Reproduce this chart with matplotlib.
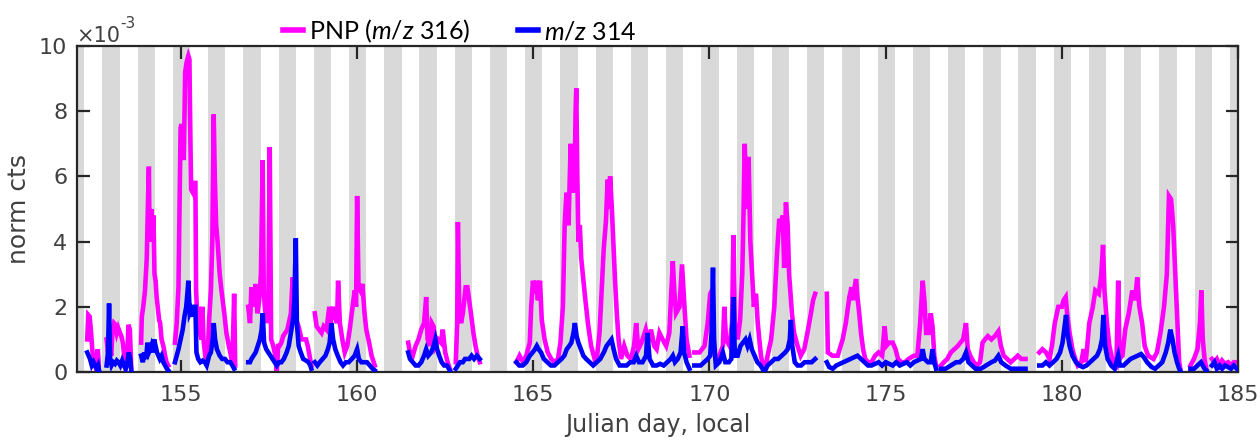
import numpy as np
import matplotlib
matplotlib.use("Agg")
import matplotlib.pyplot as plt
from matplotlib.lines import Line2D

plt.rcParams["font.family"] = ["DejaVu Sans"]
plt.rcParams["mathtext.fontset"] = "custom"
plt.rcParams["mathtext.rm"] = "Lato"
plt.rcParams["mathtext.it"] = "Lato:italic"

# Normalized counts (units of 1e-3) against local Julian day.
# None marks a break in the record.
pnp_316 = [
    (152.34, 1.0), (152.37, 1.75), (152.41, 1.7), (152.45, 1.2), (152.49, 0.6), (152.53, 0.4),
    (152.57, 0.2), (152.61, 0.3), (152.64, 0.7), (152.67, 0.2), None,
    (152.89, 1.0), (152.93, 0.6), (152.97, 0.9), (153.02, 0.5), (153.06, 1.3), (153.10, 1.5),
    (153.14, 1.45), (153.18, 1.2), (153.22, 1.35), (153.27, 1.2), (153.31, 1.1), (153.35, 0.9),
    (153.39, 0.5), (153.43, 0.1), (153.47, 0.2), (153.51, 1.45), (153.55, 1.3), (153.59, 0.1), None,
    (153.87, 0.9), (153.89, 1.7), (153.93, 2.0), (153.98, 2.5), (154.03, 3.5), (154.06, 5.0),
    (154.09, 6.3), (154.11, 4.0), (154.13, 4.5), (154.16, 5.0), (154.19, 4.2), (154.22, 4.8),
    (154.25, 3.0), (154.28, 2.8), (154.31, 2.3), (154.34, 2.0), (154.38, 1.6), (154.41, 1.5),
    (154.45, 1.0), (154.50, 0.8), (154.55, 0.5), (154.59, 0.3), (154.64, 0.2), None,
    (154.83, 0.9), (154.88, 1.5), (154.93, 2.6), (154.96, 5.0), (154.99, 7.5), (155.02, 7.6),
    (155.05, 7.2), (155.08, 6.5), (155.12, 9.2), (155.16, 9.5), (155.21, 9.7), (155.24, 9.6),
    (155.27, 7.0), (155.29, 5.6), (155.34, 5.5), (155.38, 5.8), (155.41, 5.8), (155.43, 2.5),
    (155.47, 1.5), (155.51, 2.0), (155.54, 1.2), (155.58, 1.0), (155.61, 2.0), (155.64, 1.0),
    (155.68, 0.6), (155.73, 0.2), (155.77, 0.8), (155.80, 1.6), (155.85, 2.5), (155.89, 4.0),
    (155.93, 7.9), (155.96, 6.0), (156.00, 4.5), (156.04, 4.0), (156.10, 3.0), (156.15, 2.5),
    (156.23, 1.8), (156.29, 1.2), (156.36, 0.8), (156.42, 0.5), (156.46, 0.2), (156.51, 2.4),
    (156.54, 0.2), None,
    (156.91, 2.0), (156.96, 1.5), (157.00, 2.6), (157.05, 2.0), (157.12, 2.7), (157.17, 1.8),
    (157.22, 2.2), (157.27, 3.0), (157.32, 6.5), (157.35, 2.5), (157.38, 2.0), (157.43, 1.5),
    (157.48, 2.0), (157.52, 6.9), (157.56, 1.0), (157.62, 0.8), (157.68, 0.5), (157.72, 0.0),
    (157.76, 0.8), (157.80, 0.8), (157.85, 0.9), (157.90, 1.1), (157.96, 1.2), (158.02, 1.3),
    (158.08, 1.6), (158.12, 1.8), (158.17, 2.9), (158.20, 2.0), (158.25, 1.6), (158.31, 1.5),
    (158.36, 1.3), (158.42, 1.0), (158.48, 1.0), (158.55, 1.0), (158.60, 0.8), (158.65, 0.5),
    (158.70, 0.2), None,
    (158.80, 1.8), (158.85, 1.4), (158.92, 1.3), (158.99, 1.2), (159.05, 1.4), (159.13, 1.3),
    (159.21, 2.0), (159.25, 1.5), (159.30, 2.0), (159.37, 1.7), (159.43, 1.5), (159.46, 2.8),
    (159.51, 1.5), (159.58, 1.0), (159.65, 0.6), (159.72, 0.8), (159.79, 1.3), (159.87, 2.0),
    (159.93, 2.5), (159.97, 2.0), (160.00, 5.4), (160.04, 2.6), (160.09, 2.5), (160.15, 2.7),
    (160.21, 1.8), (160.26, 1.3), (160.34, 0.9), (160.41, 0.5), (160.47, 0.3), (160.50, 0.2), None,
    (161.45, 0.9), (161.50, 0.6), (161.58, 0.5), (161.66, 0.8), (161.74, 1.0), (161.82, 1.3),
    (161.90, 1.5), (161.96, 2.3), (162.00, 1.0), (162.07, 0.8), (162.12, 1.5), (162.17, 1.4),
    (162.22, 0.8), (162.30, 1.0), (162.38, 0.9), (162.43, 1.3), (162.50, 0.6), (162.57, 0.3),
    (162.63, 0.1), None,
    (162.80, 0.3), (162.84, 1.5), (162.86, 4.6), (162.90, 1.8), (162.95, 1.5), (163.00, 1.8),
    (163.05, 2.3), (163.08, 2.6), (163.13, 2.6), (163.18, 2.2), (163.23, 1.8), (163.30, 1.2),
    (163.36, 0.8), (163.42, 0.5), (163.48, 0.3), None,
    (164.52, 0.3), (164.61, 0.5), (164.71, 0.3), (164.80, 0.5), (164.90, 0.9), (164.94, 2.0),
    (164.99, 2.8), (165.03, 2.4), (165.08, 2.8), (165.13, 2.2), (165.19, 2.8), (165.24, 1.6),
    (165.32, 1.0), (165.41, 0.6), (165.51, 0.4), (165.60, 0.3), (165.70, 0.4), (165.77, 0.9),
    (165.84, 2.0), (165.89, 4.5), (165.94, 5.5), (166.00, 4.5), (166.06, 7.0), (166.10, 5.5),
    (166.14, 6.8), (166.17, 5.5), (166.20, 8.0), (166.22, 8.7), (166.25, 6.0), (166.28, 4.0),
    (166.32, 4.5), (166.36, 3.5), (166.45, 2.5), (166.55, 1.5), (166.64, 0.8), (166.74, 0.4),
    (166.81, 0.5), (166.88, 1.2), (166.94, 2.5), (167.00, 3.8), (167.06, 4.6), (167.11, 5.9),
    (167.15, 5.0), (167.18, 6.0), (167.23, 5.0), (167.28, 3.8), (167.32, 2.8), (167.37, 1.8),
    (167.42, 1.0), (167.49, 0.4), (167.58, 0.8), (167.67, 0.5), (167.77, 0.4), (167.86, 0.8),
    (167.92, 1.5), (167.98, 0.7), (168.07, 0.9), (168.19, 1.3), (168.26, 0.9), (168.34, 1.3),
    (168.43, 0.8), (168.50, 0.7), (168.58, 1.2), (168.67, 1.0), (168.77, 0.8), (168.86, 1.2),
    (168.96, 3.4), (169.00, 2.5), (169.05, 1.8), (169.15, 2.0), (169.22, 3.3), (169.29, 2.0),
    (169.35, 1.0), (169.43, 0.5), None,
    (169.57, 0.6), (169.72, 0.6), (169.86, 0.8), (169.95, 1.5), (170.02, 2.4), (170.07, 2.5),
    (170.11, 0.8), (170.19, 0.3), (170.28, 0.5), (170.38, 0.8), (170.42, 2.0), (170.47, 1.0),
    (170.57, 0.8), (170.64, 1.5), (170.68, 4.2), (170.72, 1.5), (170.80, 1.0), (170.87, 1.6),
    (170.93, 3.0), (170.96, 4.5), (171.00, 7.0), (171.06, 5.0), (171.11, 6.6), (171.16, 4.0),
    (171.21, 3.0), (171.26, 2.0), (171.32, 2.4), (171.37, 1.5), (171.46, 0.5), (171.56, 0.0),
    (171.65, 0.5), (171.75, 1.0), (171.84, 2.0), (171.91, 3.5), (171.98, 4.7), (172.04, 4.5),
    (172.08, 4.8), (172.12, 3.2), (172.17, 5.2), (172.22, 4.5), (172.26, 3.0), (172.34, 1.8),
    (172.40, 1.2), (172.50, 0.8), (172.59, 0.5), (172.69, 0.7), (172.78, 1.2), (172.88, 1.8),
    (172.94, 2.2), (173.00, 2.4), None,
    (173.33, 2.4), (173.36, 0.6), (173.49, 0.5), (173.64, 0.5), (173.78, 1.0), (173.87, 1.5),
    (173.97, 2.3), (174.03, 2.6), (174.08, 2.2), (174.12, 2.6), (174.16, 2.85), (174.20, 2.3),
    (174.25, 1.8), (174.30, 1.2), (174.36, 0.7), (174.42, 0.4), (174.50, 0.3), (174.60, 0.3),
    (174.70, 0.5), (174.80, 0.6), (174.90, 0.5), (174.97, 1.4), (175.02, 0.8), (175.10, 0.9),
    (175.20, 0.9), (175.28, 0.7), (175.35, 0.4), (175.45, 0.3), (175.55, 0.3), (175.65, 0.4),
    (175.80, 0.5), (175.90, 0.5), (175.98, 1.5), (176.05, 2.8), (176.10, 2.2), (176.15, 1.2),
    (176.22, 1.2), (176.28, 1.8), (176.33, 1.4), (176.38, 0.5), (176.43, 0.2), None,
    (176.57, 0.2), (176.65, 0.3), (176.75, 0.4), (176.85, 0.6), (176.95, 0.7), (177.05, 0.8),
    (177.12, 0.9), (177.20, 1.0), (177.28, 1.5), (177.33, 0.7), (177.40, 0.5), (177.50, 0.3),
    (177.60, 0.2), (177.68, 0.3), (177.75, 0.9), (177.82, 1.0), (177.90, 1.1), (178.00, 1.0),
    (178.10, 1.1), (178.20, 1.25), (178.27, 0.8), (178.35, 0.5), (178.45, 0.4), (178.55, 0.3),
    (178.65, 0.4), (178.75, 0.5), (178.85, 0.4), (178.97, 0.4), None,
    (179.36, 0.6), (179.45, 0.7), (179.55, 0.6), (179.65, 0.4), (179.72, 0.8), (179.80, 1.5),
    (179.90, 2.0), (180.00, 2.0), (180.05, 2.2), (180.11, 2.3), (180.15, 1.8), (180.22, 1.2),
    (180.30, 0.7), (180.38, 0.4), (180.45, 0.2), (180.55, 0.3), (180.62, 0.7), (180.68, 0.3),
    (180.78, 1.5), (180.88, 2.0), (180.95, 2.5), (181.05, 2.4), (181.12, 3.0), (181.17, 3.9),
    (181.21, 2.5), (181.28, 1.5), (181.35, 0.8), (181.45, 0.3), (181.55, 0.2), (181.60, 2.8),
    (181.64, 0.4), (181.72, 0.5), (181.80, 1.3), (181.90, 1.8), (182.00, 2.5), (182.08, 2.2),
    (182.14, 2.9), (182.20, 2.0), (182.28, 1.5), (182.35, 0.8), (182.45, 0.5), (182.60, 0.4),
    (182.70, 0.6), (182.80, 1.2), (182.90, 2.0), (182.98, 3.0), (183.04, 5.4), (183.10, 5.3),
    (183.16, 4.5), (183.22, 3.0), (183.28, 1.5), (183.33, 0.3), (183.38, 0.0), None,
    (183.65, 0.2), (183.75, 0.4), (183.85, 0.7), (183.92, 1.5), (183.96, 2.5), (184.00, 1.0),
    (184.05, 0.4), (184.10, 0.1), None,
    (184.26, 0.4), (184.33, 0.3), (184.40, 0.4), (184.48, 0.2), (184.55, 0.35), (184.63, 0.25),
    (184.72, 0.3), (184.80, 0.2), (184.88, 0.3), (184.97, 0.3),
]

mz_314 = [
    (152.34, 0.6), (152.38, 0.5), (152.42, 0.4), (152.47, 0.2), (152.52, 0.3), (152.56, 0.2),
    (152.61, 0.1), (152.65, 0.2), (152.68, 0.05), None,
    (152.89, 0.2), (152.93, 0.6), (152.96, 2.1), (152.99, 0.4), (153.03, 0.2), (153.08, 0.3),
    (153.13, 0.25), (153.18, 0.35), (153.23, 0.3), (153.28, 0.2), (153.33, 0.35), (153.38, 0.2),
    (153.43, 0.1), (153.48, 0.3), (153.52, 0.6), (153.56, 0.4), (153.59, 0.05), None,
    (153.87, 0.5), (153.92, 0.3), (153.96, 0.6), (154.01, 0.4), (154.05, 0.9), (154.09, 0.6),
    (154.13, 0.7), (154.16, 0.8), (154.20, 0.6), (154.24, 1.0), (154.28, 0.8), (154.32, 0.6),
    (154.36, 0.5), (154.40, 0.4), (154.45, 0.5), (154.50, 0.3), (154.55, 0.2), (154.60, 0.1),
    (154.64, 0.05), None,
    (154.83, 0.3), (154.88, 0.5), (154.93, 0.7), (154.99, 1.0), (155.05, 1.3), (155.10, 1.7),
    (155.15, 2.0), (155.19, 2.5), (155.21, 2.8), (155.25, 1.8), (155.29, 1.9), (155.34, 1.7),
    (155.38, 2.0), (155.41, 2.0), (155.44, 0.6), (155.49, 0.4), (155.55, 0.3), (155.62, 0.35),
    (155.68, 0.3), (155.73, 0.2), (155.80, 0.5), (155.85, 0.6), (155.90, 1.0), (155.93, 1.5),
    (155.97, 1.0), (156.02, 0.7), (156.10, 0.5), (156.17, 0.4), (156.25, 0.4), (156.32, 0.3),
    (156.40, 0.3), (156.46, 0.2), (156.51, 0.1), None,
    (156.91, 0.3), (156.96, 0.3), (157.00, 0.4), (157.06, 0.5), (157.12, 0.6), (157.18, 0.8),
    (157.24, 1.0), (157.29, 1.3), (157.32, 1.8), (157.36, 0.9), (157.42, 0.7), (157.48, 0.6),
    (157.54, 0.5), (157.60, 0.4), (157.66, 0.3), (157.72, 0.2), (157.78, 0.3), (157.85, 0.3),
    (157.92, 0.4), (158.00, 0.6), (158.06, 0.8), (158.12, 1.2), (158.18, 1.6), (158.22, 2.2),
    (158.26, 4.1), (158.29, 1.5), (158.34, 0.8), (158.40, 0.6), (158.47, 0.4), (158.55, 0.35),
    (158.62, 0.3), (158.67, 0.2), (158.70, 0.1), None,
    (158.80, 0.3), (158.87, 0.2), (158.94, 0.3), (159.02, 0.4), (159.10, 0.5), (159.17, 0.7),
    (159.22, 0.9), (159.27, 1.5), (159.32, 1.0), (159.38, 0.7), (159.45, 0.5), (159.53, 0.3),
    (159.60, 0.2), (159.68, 0.3), (159.76, 0.3), (159.85, 0.4), (159.93, 0.5), (160.00, 0.7),
    (160.05, 0.4), (160.12, 0.3), (160.20, 0.3), (160.28, 0.3), (160.36, 0.2), (160.44, 0.1),
    (160.50, 0.05), None,
    (161.45, 0.6), (161.50, 0.4), (161.58, 0.3), (161.66, 0.2), (161.74, 0.2), (161.82, 0.3),
    (161.90, 0.5), (161.96, 0.7), (162.02, 0.5), (162.10, 0.6), (162.17, 0.8), (162.22, 1.0),
    (162.27, 0.7), (162.33, 0.5), (162.40, 0.3), (162.47, 0.2), (162.55, 0.2), (162.63, 0.05), None,
    (162.80, 0.1), (162.86, 0.2), (162.92, 0.3), (163.00, 0.3), (163.06, 0.4), (163.12, 0.4),
    (163.18, 0.4), (163.25, 0.5), (163.32, 0.4), (163.40, 0.5), (163.48, 0.4), None,
    (164.52, 0.3), (164.60, 0.2), (164.70, 0.2), (164.80, 0.3), (164.90, 0.5), (164.98, 0.6),
    (165.05, 0.7), (165.10, 0.8), (165.15, 0.7), (165.22, 0.6), (165.30, 0.4), (165.40, 0.3),
    (165.50, 0.2), (165.60, 0.2), (165.70, 0.3), (165.80, 0.4), (165.88, 0.5), (165.95, 0.7),
    (166.02, 0.8), (166.08, 0.9), (166.14, 1.2), (166.18, 1.5), (166.23, 1.1), (166.28, 0.9),
    (166.35, 0.7), (166.42, 0.5), (166.50, 0.4), (166.60, 0.3), (166.70, 0.2), (166.80, 0.3),
    (166.90, 0.4), (167.00, 0.6), (167.08, 0.8), (167.15, 0.9), (167.22, 1.0), (167.28, 0.7),
    (167.35, 0.4), (167.45, 0.2), (167.55, 0.2), (167.65, 0.2), (167.75, 0.3), (167.85, 0.3),
    (167.92, 0.5), (168.00, 0.3), (168.10, 0.3), (168.20, 0.5), (168.24, 1.2), (168.30, 0.4),
    (168.40, 0.2), (168.50, 0.2), (168.60, 0.25), (168.70, 0.2), (168.80, 0.3), (168.90, 0.4),
    (168.96, 0.5), (169.02, 0.3), (169.10, 0.4), (169.18, 0.6), (169.24, 1.4), (169.28, 0.6),
    (169.35, 0.3), (169.43, 0.1), None,
    (169.57, 0.2), (169.65, 0.2), (169.75, 0.2), (169.85, 0.3), (169.95, 0.4), (170.02, 0.5),
    (170.06, 1.2), (170.10, 3.2), (170.13, 1.0), (170.18, 0.2), (170.28, 0.3), (170.38, 0.6),
    (170.45, 0.3), (170.55, 0.3), (170.62, 0.4), (170.68, 2.3), (170.72, 0.5), (170.80, 0.5),
    (170.88, 0.8), (170.95, 0.9), (171.02, 1.0), (171.08, 0.8), (171.14, 1.0), (171.20, 0.7),
    (171.28, 0.5), (171.36, 0.3), (171.45, 0.2), (171.56, 0.0), (171.65, 0.2), (171.75, 0.3),
    (171.85, 0.4), (171.95, 0.4), (172.05, 0.5), (172.15, 0.6), (172.22, 0.7), (172.28, 1.0),
    (172.31, 1.6), (172.35, 0.8), (172.42, 0.3), (172.50, 0.2), (172.60, 0.2), (172.70, 0.3),
    (172.80, 0.3), (172.90, 0.3), (173.00, 0.4), None,
    (173.33, 0.3), (173.40, 0.15), (173.50, 0.1), (173.60, 0.2), (173.70, 0.25), (173.80, 0.3),
    (173.90, 0.35), (174.00, 0.4), (174.10, 0.45), (174.20, 0.5), (174.30, 0.4), (174.40, 0.3),
    (174.50, 0.2), (174.60, 0.2), (174.70, 0.25), (174.80, 0.3), (174.90, 0.2), (175.00, 0.3),
    (175.10, 0.25), (175.20, 0.2), (175.30, 0.3), (175.40, 0.2), (175.50, 0.25), (175.60, 0.3),
    (175.70, 0.2), (175.80, 0.3), (175.90, 0.35), (176.00, 0.4), (176.05, 0.7), (176.10, 0.4),
    (176.20, 0.3), (176.28, 0.3), (176.33, 0.7), (176.38, 0.3), (176.43, 0.1), None,
    (176.57, 0.1), (176.70, 0.1), (176.85, 0.2), (177.00, 0.3), (177.10, 0.3), (177.20, 0.4),
    (177.28, 0.6), (177.35, 0.3), (177.45, 0.2), (177.55, 0.1), (177.70, 0.1), (177.85, 0.2),
    (178.00, 0.3), (178.10, 0.35), (178.20, 0.5), (178.28, 0.3), (178.40, 0.2), (178.55, 0.1),
    (178.70, 0.1), (178.85, 0.1), (178.97, 0.1), None,
    (179.36, 0.2), (179.45, 0.2), (179.55, 0.3), (179.65, 0.2), (179.75, 0.3), (179.85, 0.4),
    (179.95, 0.6), (180.02, 0.9), (180.08, 1.4), (180.12, 1.75), (180.16, 1.2), (180.22, 0.8),
    (180.30, 0.5), (180.40, 0.3), (180.50, 0.2), (180.60, 0.15), (180.70, 0.2), (180.80, 0.3),
    (180.90, 0.4), (181.00, 0.5), (181.08, 0.7), (181.14, 1.0), (181.18, 1.75), (181.23, 0.8),
    (181.30, 0.4), (181.40, 0.2), (181.50, 0.1), (181.60, 0.5), (181.65, 0.2), (181.75, 0.2),
    (181.85, 0.3), (181.95, 0.4), (182.05, 0.45), (182.15, 0.5), (182.25, 0.55), (182.33, 0.45),
    (182.42, 0.3), (182.55, 0.15), (182.65, 0.1), (182.75, 0.2), (182.85, 0.3), (182.95, 0.6),
    (183.02, 0.9), (183.08, 1.3), (183.14, 1.0), (183.20, 0.6), (183.27, 0.3), (183.33, 0.1),
    (183.38, 0.0), None,
    (183.65, 0.1), (183.75, 0.1), (183.85, 0.2), (183.95, 0.3), (184.05, 0.1), (184.10, 0.05), None,
    (184.26, 0.2), (184.33, 0.3), (184.40, 0.1), (184.48, 0.2), (184.55, 0.1), (184.63, 0.2),
    (184.72, 0.15), (184.80, 0.1), (184.88, 0.2), (184.97, 0.1),
]

x_ticks = [155, 160, 165, 170, 175, 180, 185]
y_ticks = [0, 2, 4, 6, 8, 10]
night_days = range(151, 185)
dusk, dawn = 0.77, 1.26   # shaded night, as fraction of the day


def split_series(points):
    days = np.array([np.nan if p is None else p[0] for p in points])
    vals = np.array([np.nan if p is None else p[1] for p in points])
    return days, vals


W, H = 1260, 444
fig = plt.figure(figsize=(W / 100, H / 100), dpi=100)
ax = fig.add_axes([77 / W, 1 - 372 / H, (1238 - 77) / W, (372 - 46) / H])

for d in night_days:
    ax.axvspan(d + dusk, d + dawn, color="#d9d9d9", lw=0, zorder=0)

d316, v316 = split_series(pnp_316)
d314, v314 = split_series(mz_314)
ax.plot(d316, v316, color="#ff00ff", lw=3.3, solid_joinstyle="miter", zorder=2)
ax.plot(d314, v314, color="#0000ff", lw=3.3, solid_joinstyle="miter", zorder=3)

ax.set_xlim(152.05, 185)
ax.set_ylim(0, 10)
ax.set_xticks(x_ticks)
ax.set_xticklabels([str(t) for t in x_ticks])
ax.set_yticks(y_ticks)
ax.set_yticklabels([str(t) for t in y_ticks])

text_col = "#404040"
for s in ax.spines.values():
    s.set_linewidth(1.6)
    s.set_color("#262626")
ax.tick_params(direction="in", length=9, width=1.6, color="#262626",
               top=True, right=True, labelsize=16, labelcolor=text_col)
ax.tick_params(axis="x", pad=9)
ax.tick_params(axis="y", pad=7)

ax.set_xlabel("Julian day, local", fontsize=17, color=text_col, labelpad=6)
ax.set_ylabel("norm cts", fontsize=18, color=text_col, labelpad=6)

fig.text(76 / W, 1 - 42 / H, "\u00d710", fontsize=15, color=text_col, va="baseline")
fig.text(120 / W, 1 - 28 / H, "-3", fontsize=11, color=text_col, va="baseline")

handles = [Line2D([], [], color="#ff00ff", lw=4),
           Line2D([], [], color="#0000ff", lw=4)]
labels = [r"PNP ($\mathit{m/z}$ 316)", r"$\mathit{m/z}$ 314"]
fig.legend(handles, labels, loc="center left", bbox_to_anchor=(283 / W, 1 - 31 / H),
           ncol=2, frameon=False, handlelength=0.8, handletextpad=0.25,
           columnspacing=1.9, borderpad=0, borderaxespad=0,
           prop={"family": "Lato", "size": 18})

fig.savefig("out.png", dpi=100)
